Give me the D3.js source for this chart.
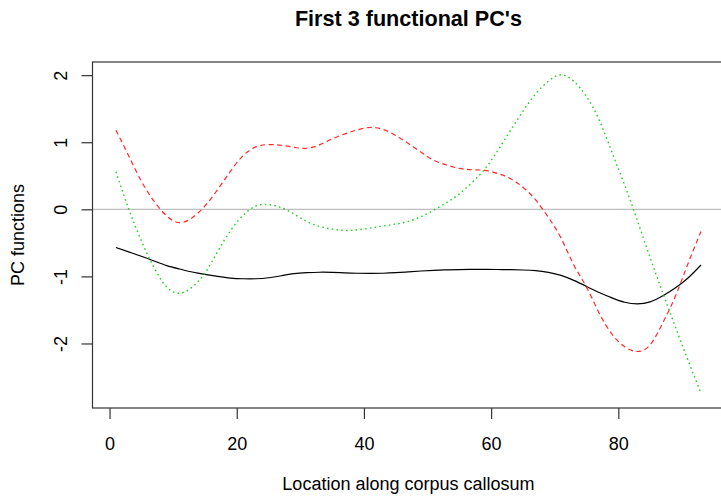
<!DOCTYPE html>
<html>
<head>
<meta charset="utf-8">
<script src="https://cdn.jsdelivr.net/npm/d3@7"></script>
<style>
  html, body { margin: 0; padding: 0; background: #fff; overflow: hidden; }
  svg { display: block; }
  text { font-family: "Liberation Sans", Arial, Helvetica, sans-serif; fill: #000; }
</style>
</head>
<body>
<svg id="chart" width="721" height="496"></svg>
<script>
// Location along the corpus callosum (every second grid point)
const location_ = [1,3,5,7,9,11,13,15,17,19,21,23,25,27,29,31,33,35,37,39,41,43,45,47,
                   49,51,53,55,57,59,61,63,65,67,69,71,73,75,77,79,81,83,85,87,89,91,93];

// First three functional principal component curves
const pc1 = [-0.57,-0.635,-0.70,-0.77,-0.84,-0.89,-0.935,-0.97,-1.00,-1.025,-1.035,-1.035,
             -1.02,-0.99,-0.96,-0.945,-0.938,-0.94,-0.948,-0.953,-0.955,-0.953,-0.945,-0.932,
             -0.92,-0.91,-0.903,-0.898,-0.896,-0.896,-0.897,-0.90,-0.905,-0.915,-0.94,-0.985,
             -1.06,-1.15,-1.24,-1.32,-1.385,-1.41,-1.38,-1.29,-1.17,-1.02,-0.83];
const pc2 = [1.18,0.80,0.42,0.12,-0.10,-0.20,-0.125,0.05,0.295,0.565,0.80,0.93,
             0.965,0.955,0.925,0.91,0.96,1.05,1.125,1.185,1.22,1.19,1.10,0.98,
             0.85,0.73,0.66,0.61,0.59,0.58,0.535,0.46,0.33,0.14,-0.12,-0.43,
             -0.83,-1.16,-1.55,-1.86,-2.05,-2.12,-2.02,-1.69,-1.29,-0.80,-0.33];
const pc3 = [0.56,0.01,-0.47,-0.87,-1.16,-1.25,-1.16,-0.95,-0.63,-0.32,-0.09,0.05,
             0.07,0.025,-0.07,-0.18,-0.255,-0.295,-0.315,-0.305,-0.28,-0.25,-0.22,-0.18,
             -0.11,-0.01,0.10,0.23,0.40,0.60,0.87,1.17,1.46,1.72,1.91,2.005,
             1.91,1.68,1.33,0.85,0.36,-0.17,-0.72,-1.25,-1.76,-2.26,-2.74];

const xTicks = [0, 20, 40, 60, 80];
const yTicks = [-2, -1, 0, 1, 2];

const titleText = "First 3 functional PC's";
const xLabel = "Location along corpus callosum";
const yLabel = "PC functions";

// Plot region
const plotLeft = 92.5, plotRight = 724.4, plotTop = 62, plotBottom = 408;

const svg = d3.select("#chart");

// Axis limits extended 4% beyond the data range on each side
const xr = d3.extent(location_);
const xpad = (xr[1] - xr[0]) * 0.04;
const x = d3.scaleLinear().domain([xr[0] - xpad, xr[1] + xpad]).range([plotLeft, plotRight]);
const y = d3.scaleLinear().domain([-2.962, 2.196]).range([plotBottom, plotTop]);

// Zero reference line
svg.append("line")
  .attr("x1", plotLeft).attr("x2", plotRight)
  .attr("y1", y(0)).attr("y2", y(0))
  .attr("stroke", "#bebebe").attr("stroke-width", 1.2);

const series = [
  { values: pc1, color: "#000000", dash: null, width: 1.2 },
  { values: pc2, color: "#ff2a2a", dash: "5,3.5", width: 1.2 },
  { values: pc3, color: "#22d022", dash: "1.6,3.2", width: 1.4 }
];

const line = d3.line()
  .x((d, i) => x(location_[i]))
  .y(d => y(d))
  .curve(d3.curveNatural);

series.forEach(s => {
  svg.append("path")
    .datum(s.values)
    .attr("d", line)
    .attr("fill", "none")
    .attr("stroke", s.color)
    .attr("stroke-width", s.width)
    .attr("stroke-dasharray", s.dash);
});

// Box around the plot region
svg.append("rect")
  .attr("x", plotLeft).attr("y", plotTop)
  .attr("width", plotRight - plotLeft).attr("height", plotBottom - plotTop)
  .attr("fill", "none").attr("stroke", "#333").attr("stroke-width", 1.2);

// Bottom axis
const xAxis = d3.axisBottom(x).tickValues(xTicks).tickSize(11).tickPadding(18)
  .tickFormat(d => String(d));
const gx = svg.append("g").attr("transform", `translate(0,${plotBottom})`).call(xAxis);
gx.select(".domain").remove();
gx.selectAll(".tick line").attr("stroke", "#333").attr("stroke-width", 1.2);
gx.selectAll(".tick text")
  .attr("font-family", "Liberation Sans, Arial, sans-serif")
  .attr("font-size", 18).attr("fill", "#000");

// Left axis with labels parallel to the axis (plain hyphen for negatives)
const yAxis = d3.axisLeft(y).tickValues(yTicks).tickSize(11).tickFormat(d => String(d));
const gy = svg.append("g").attr("transform", `translate(${plotLeft},0)`).call(yAxis);
gy.select(".domain").remove();
gy.selectAll(".tick line").attr("stroke", "#333").attr("stroke-width", 1.2);
gy.selectAll(".tick text")
  .attr("font-family", "Liberation Sans, Arial, sans-serif")
  .attr("font-size", 18).attr("fill", "#000")
  .attr("x", null).attr("dy", null)
  .attr("text-anchor", "middle")
  .attr("transform", "translate(-25.5,0) rotate(-90)");

// Titles
svg.append("text")
  .attr("x", (plotLeft + plotRight) / 2).attr("y", 25.5)
  .attr("text-anchor", "middle")
  .attr("font-size", 21.6).attr("font-weight", "bold")
  .text(titleText);

svg.append("text")
  .attr("x", (plotLeft + plotRight) / 2).attr("y", 490)
  .attr("text-anchor", "middle")
  .attr("font-size", 18)
  .text(xLabel);

svg.append("text")
  .attr("transform", `translate(24,${(plotTop + plotBottom) / 2}) rotate(-90)`)
  .attr("text-anchor", "middle")
  .attr("font-size", 18)
  .text(yLabel);
</script>
</body>
</html>
